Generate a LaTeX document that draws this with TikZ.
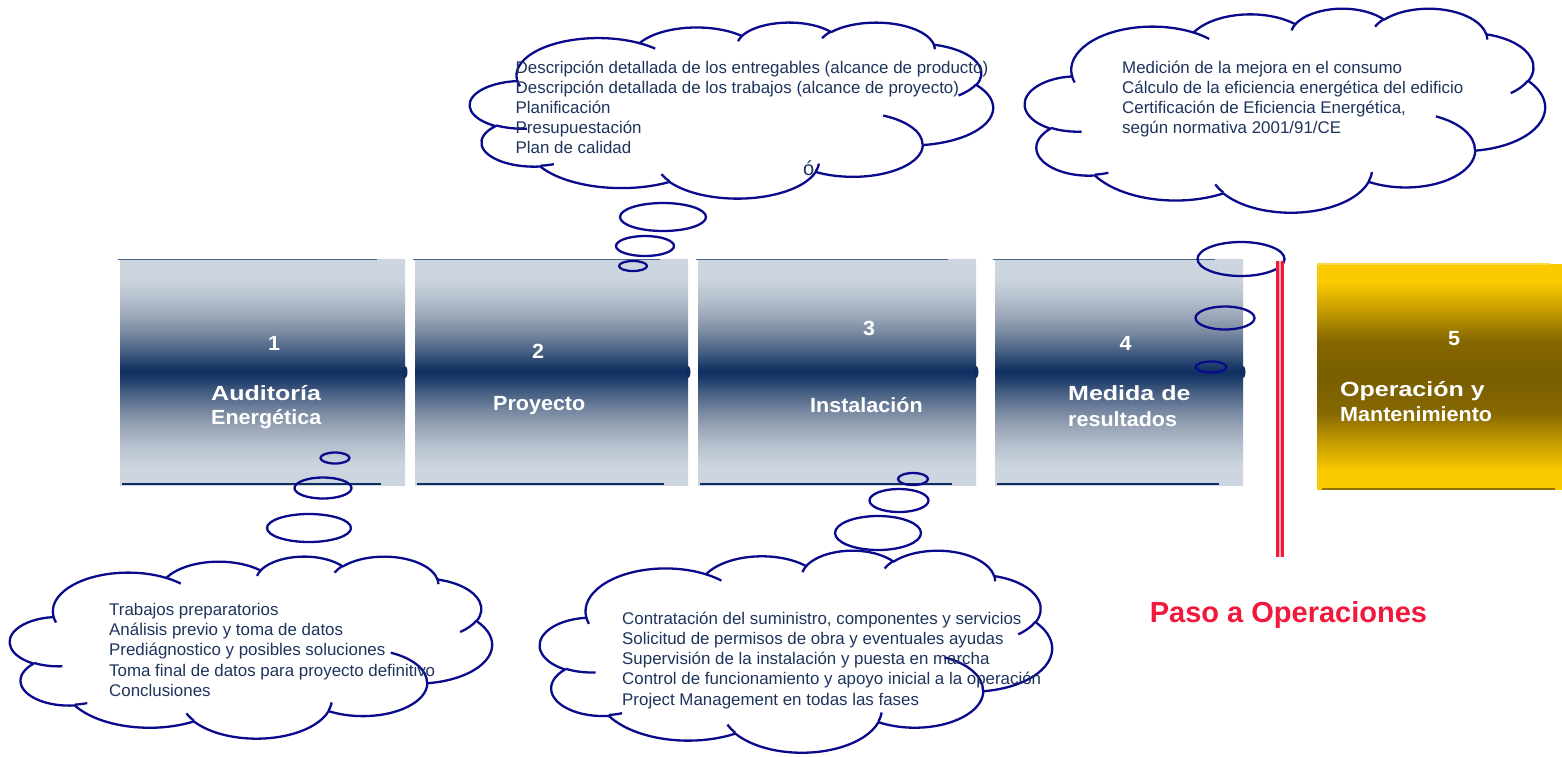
\documentclass[tikz,border=0pt]{standalone}
\usepackage{fontspec}
\setmainfont{Liberation Sans}
\newfontfamily\titlefont[FakeStretch=1.05]{Liberation Sans}
\newfontfamily\titlewidefont[FakeStretch=1.22]{Liberation Sans}

\definecolor{stepLight}{RGB}{205,214,224}
\definecolor{stepMid}{RGB}{152,164,181}
\definecolor{stepDark}{RGB}{14,47,96}
\definecolor{goldLight}{RGB}{251,202,0}
\definecolor{goldMid}{RGB}{200,158,0}
\definecolor{goldDark}{RGB}{122,94,0}
\definecolor{cloudBlue}{RGB}{10,10,140}
\definecolor{noteBlue}{RGB}{30,52,92}
\definecolor{opRed}{RGB}{242,24,60}

% phase boxes: light at the edges, dark band in the middle
\pgfdeclareverticalshading{stepshade}{100bp}{color(0bp)=(stepLight); color(25bp)=(stepLight);
  color(29bp)=(stepLight); color(34bp)=(stepLight!55!stepMid); color(38bp)=(stepMid);
  color(41.5bp)=(stepMid!75!stepDark); color(45bp)=(stepMid!45!stepDark);
  color(49bp)=(stepDark!93!stepMid); color(50bp)=(stepDark); color(51bp)=(stepDark!93!stepMid);
  color(55bp)=(stepMid!45!stepDark); color(58.5bp)=(stepMid!75!stepDark); color(62bp)=(stepMid);
  color(66bp)=(stepLight!55!stepMid); color(71bp)=(stepLight); color(75bp)=(stepLight);
  color(100bp)=(stepLight)}
\pgfdeclareverticalshading{goldshade}{100bp}{color(0bp)=(goldLight); color(25bp)=(goldLight);
  color(29bp)=(goldLight); color(35bp)=(goldMid); color(42bp)=(goldDark!85!goldMid);
  color(50bp)=(goldDark); color(58bp)=(goldDark!85!goldMid); color(65bp)=(goldMid);
  color(71bp)=(goldLight); color(75bp)=(goldLight); color(100bp)=(goldLight)}

% arc of an ellipse, angles given as seen on the ellipse
\newcommand{\cloudarc}[4]{%
  \pgfextra{%
    \pgfmathparse{atan2(#1*sin(#3),#2*cos(#3))}\xdef\cldA{\pgfmathresult}%
    \pgfmathparse{atan2(#1*sin(#3+#4),#2*cos(#3+#4))}\xdef\cldB{\pgfmathresult}%
    \pgfmathparse{mod(\cldB-\cldA+720,360)}\xdef\cldC{\pgfmathresult}}%
  arc[start angle=\cldA, delta angle=\cldC, x radius=#1, y radius=#2]}

% cloud outline in a 432 x 432 box: left, top, width, height
\newcommand{\thoughtcloud}[4]{%
  \pgfmathsetmacro\cloudsx{#3/432}%
  \pgfmathsetmacro\cloudsy{#4/432}%
  \begin{scope}[shift={(#1,#2)}, x=\cloudsx pt, y=-\cloudsy pt]
    \draw[cloudline] (39.00,143.70)
      \cloudarc{67.53}{91.90}{-190.49}{123.78}
      \cloudarc{53.33}{72.67}{-144.10}{89.95}
      \cloudarc{43.65}{59.45}{-145.81}{99.72}
      \cloudarc{48.57}{65.95}{-130.99}{117.24}
      \cloudarc{53.33}{72.73}{-78.71}{109.03}
      \cloudarc{67.75}{92.20}{-46.27}{130.27}
      \cloudarc{57.85}{78.67}{0.63}{114.03}
      \cloudarc{67.52}{92.15}{22.45}{115.17}
      \cloudarc{77.20}{105.43}{66.24}{75.71}
      \cloudarc{43.60}{59.18}{-274.94}{146.74}
      \cloudarc{43.45}{59.45}{-246.83}{152.52}
      -- cycle;
    % folds inside the cloud
    \draw[cloudline]
      (46.93,261.77) \cloudarc{43.45}{59.45}{86.74}{26.43}
      (69.28,348.99) \cloudarc{43.60}{59.18}{73.61}{11.45}
      (164.78,390.90) \cloudarc{67.52}{92.15}{137.62}{14.08}
      (288.27,347.51) \cloudarc{67.52}{92.15}{6.45}{16.00}
      (341.29,229.54) \cloudarc{57.85}{78.67}{-70.29}{70.92}
      (417.98,153.54) \cloudarc{53.33}{72.73}{30.32}{27.75}
      (383.24,54.26) \cloudarc{48.57}{65.95}{-13.74}{14.86}
      (290.78,39.52) \cloudarc{48.57}{65.95}{-149.18}{18.20}
      (221.41,47.20) \cloudarc{43.65}{59.45}{-163.49}{17.69}
      (140.00,51.92) \cloudarc{67.53}{91.90}{-66.71}{12.32}
      (41.27,157.89) \cloudarc{67.53}{91.90}{157.65}{11.86};
  \end{scope}}

\begin{document}
\begin{tikzpicture}[x=1pt,y=-1pt]
  % some styles
  \tikzset{
    stepbox/.style={rectangle, shading=stepshade, minimum height=226pt,
      inner sep=0pt, outer sep=0pt},
    goldbox/.style={rectangle, shading=goldshade, minimum height=225pt,
      inner sep=0pt, outer sep=0pt},
    steptitle/.style={font=\titlefont\bfseries\fontsize{20.5}{25}\selectfont,
      text=white, inner sep=0pt, anchor=base west},
    steptitlewide/.style={steptitle, font=\titlewidefont\bfseries\fontsize{20.5}{25}\selectfont},
    stepnum/.style={steptitle, anchor=base},
    note/.style={font=\fontsize{16.9}{20.5}\selectfont, text=noteBlue,
      inner sep=0pt, anchor=base west},
    cloudline/.style={draw=cloudBlue, line width=2.3pt, line join=round},
    opbar/.style={draw=opRed, line width=2.6pt, double=opRed!35!white,
      double distance=2.2pt}
  }
  \useasboundingbox (0,0) rectangle (1562,756);
  \fill[white] (0,0) rectangle (1562,756);

  % phases 1 to 4
  \foreach \n/\xa/\xb in {1/120/405, 2/415/688, 3/698/976, 4/995/1243} {
    \pgfmathsetmacro\w{\xb-\xa}
    \node[stepbox, minimum width=\w pt] (box\n) at ({(\xa+\xb)/2},372) {};
    \draw[stepMid!45!stepDark, line width=1.2pt] (\xa-2,259.5) -- (\xb-28,259.5);
    \draw[stepDark, line width=1.8pt] (\xa+2,484) -- (\xb-24,484);
    \fill[stepDark] (\xb,372) ellipse [x radius=2.5, y radius=6];
  }
  % phase 5
  \node[goldbox, minimum width=245pt] (box5) at (1439.5,376.5) {};
  \draw[goldLight!70!white, line width=1.2pt] (1317,264) -- (1550,264);
  \draw[goldDark!70!goldMid, line width=1.6pt] (1322,489) -- (1555,489);

  % numbers and titles
  \node[stepnum] (num1) at (274,350) {1};
  \node[steptitlewide] (title1) at (211,400) {Auditoría};
  \node[steptitle] (title1b) at (211,424) {Energética};
  \node[stepnum] (num2) at (538,358) {2};
  \node[steptitle] (title2) at (493,410) {Proyecto};
  \node[stepnum] (num3) at (869,335) {3};
  \node[steptitle] (title3) at (810,412) {Instalación};
  \node[stepnum] (num4) at (1125.5,350) {4};
  \node[steptitlewide] (title4) at (1068,400) {Medida de};
  \node[steptitle] (title4b) at (1068,426.5) {resultados};
  \node[stepnum] (num5) at (1454,345) {5};
  \node[steptitlewide] (title5) at (1340,396.5) {Operación y};
  \node[steptitle] (title5b) at (1340,421.5) {Mantenimiento};

  % clouds
  \thoughtcloud{470}{22}{523}{176}
  \thoughtcloud{1025}{8}{520}{204}
  \thoughtcloud{10}{556}{482}{182}
  \thoughtcloud{540}{550}{512}{202}

  % bubbles leading to the clouds
  \draw[cloudline] (663,217) ellipse [x radius=43, y radius=14];
  \draw[cloudline] (645,246) ellipse [x radius=29, y radius=10];
  \draw[cloudline] (633,266) ellipse [x radius=14, y radius=5];
  \draw[cloudline] (1241,259) ellipse [x radius=43.5, y radius=17];
  \draw[cloudline] (1225,318) ellipse [x radius=29.5, y radius=11.5];
  \draw[cloudline] (1211,367) ellipse [x radius=15.5, y radius=5.5];
  \draw[cloudline] (335,458) ellipse [x radius=14.5, y radius=5.5];
  \draw[cloudline] (323,488) ellipse [x radius=28.5, y radius=10.5];
  \draw[cloudline] (309,528) ellipse [x radius=42, y radius=14];
  \draw[cloudline] (913,479) ellipse [x radius=15, y radius=6];
  \draw[cloudline] (899,500.5) ellipse [x radius=29.5, y radius=11.5];
  \draw[cloudline] (878,533) ellipse [x radius=43, y radius=17];

  % cloud texts
  \foreach \t [count=\k from 0] in {Descripción detallada de los entregables (alcance de producto),
      Descripción detallada de los trabajos (alcance de proyecto),
      Planificación, Presupuestación, Plan de calidad}
    \node[note] (noteA\k) at (515.5,73+20*\k) {\t};
  \node[note, font=\fontsize{20}{24}\selectfont] (noteAx) at (803,175) {ó};
  \foreach \t [count=\k from 0] in {Medición de la mejora en el consumo,
      Cálculo de la eficiencia energética del edificio,
      {Certificación de Eficiencia Energética,},
      según normativa 2001/91/CE}
    \node[note] (noteB\k) at (1122,73+20.1*\k) {\t};
  \foreach \t [count=\k from 0] in {Trabajos preparatorios,
      Análisis previo y toma de datos,
      Prediágnostico y posibles soluciones,
      Toma final de datos para proyecto definitivo,
      Conclusiones}
    \node[note] (noteC\k) at (109,615+20.4*\k) {\t};
  \foreach \t [count=\k from 0] in {{Contratación del suministro, componentes y servicios},
      Solicitud de permisos de obra y eventuales ayudas,
      Supervisión de la instalación y puesta en marcha,
      Control de funcionamiento y apoyo inicial a la operación,
      Project Management en todas las fases}
    \node[note] (noteD\k) at (622,624+20.25*\k) {\t};

  % hand-over to operations
  \draw[opbar] (1280,261) -- (1280,557);
  \node[font=\bfseries\fontsize{29}{34}\selectfont, text=opRed, inner sep=0pt,
    anchor=base] (handover) at (1288.5,622.5) {Paso a Operaciones};
\end{tikzpicture}
\end{document}
